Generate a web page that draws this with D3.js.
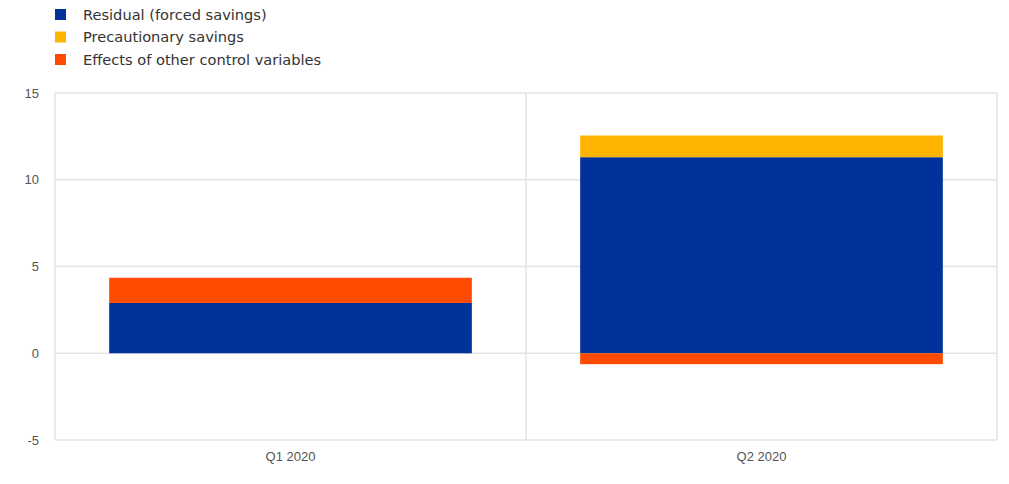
<!DOCTYPE html>
<html lang="en">
<head>
<meta charset="utf-8">
<title>Savings decomposition</title>
<script src="https://d3js.org/d3.v7.min.js"></script>
<style>
  body { margin: 0; background: #fff; }
  text { font-family: "Liberation Sans", Arial, sans-serif; }
</style>
</head>
<body>
<script>
const categories = ["Q1 2020", "Q2 2020"];
const residual = [2.9, 11.3];
const precautionary = [0, 1.25];
const otherEffects = [1.45, -0.63];
const yTicks = [-5, 0, 5, 10, 15];

const seriesNames = ["Residual (forced savings)", "Precautionary savings", "Effects of other control variables"];
const seriesColors = ["#003299", "#ffb400", "#ff4b00"];

const w = 1009, h = 484;
const plotLeft = 55, plotRight = 997, plotTop = 93, plotBottom = 440;

const svg = d3.select("body").append("svg")
  .attr("width", w).attr("height", h);

const x = d3.scaleBand().domain(categories).range([plotLeft, plotRight]).paddingInner(0).paddingOuter(0);
const y = d3.scaleLinear().domain([-5, 15]).range([plotBottom, plotTop]);

// gridlines
svg.append("g").selectAll("line").data(yTicks).join("line")
  .attr("x1", plotLeft).attr("x2", plotRight)
  .attr("y1", d => y(d)).attr("y2", d => y(d))
  .attr("stroke", "#e3e3e3").attr("stroke-width", 1.5);

// vertical borders between categories
const vlines = [plotLeft, plotRight].concat(categories.slice(1).map(c => x(c)));
svg.append("g").selectAll("line").data(vlines).join("line")
  .attr("x1", d => d).attr("x2", d => d)
  .attr("y1", plotTop).attr("y2", plotBottom)
  .attr("stroke", "#e3e3e3").attr("stroke-width", 1.5);

// y axis labels
const yAxis = d3.axisLeft(y).tickValues(yTicks).tickFormat(d => String(d)).tickSize(0).tickPadding(16);
const ya = svg.append("g").attr("transform", `translate(${plotLeft},0)`).call(yAxis);
ya.select(".domain").remove();
ya.selectAll("text").attr("fill", "#555").style("font-size", "13px");

// x axis labels
const xAxis = d3.axisBottom(x).tickSize(0).tickPadding(12);
const xa = svg.append("g").attr("transform", `translate(0,${plotBottom})`).call(xAxis);
xa.select(".domain").remove();
xa.selectAll("text").attr("fill", "#555").style("font-size", "13px");

// stacked bars
const barPad = 0.23;
const bw = x.bandwidth() * (1 - barPad);
const series = [residual, precautionary, otherEffects];
categories.forEach((c, i) => {
  let pos = 0, neg = 0;
  series.forEach((s, k) => {
    const v = s[i];
    if (!v) return;
    let y0, y1;
    if (v >= 0) { y0 = pos; y1 = pos + v; pos = y1; }
    else { y0 = neg; y1 = neg + v; neg = y1; }
    svg.append("rect")
      .attr("x", x(c) + (x.bandwidth() - bw) / 2)
      .attr("width", bw)
      .attr("y", y(Math.max(y0, y1)))
      .attr("height", Math.abs(y(y0) - y(y1)))
      .attr("fill", seriesColors[k]);
  });
});

// legend
const legend = svg.append("g").attr("transform", "translate(55,9)");
seriesNames.forEach((n, i) => {
  const g = legend.append("g").attr("transform", `translate(0,${i * 22.5})`);
  g.append("rect").attr("width", 11).attr("height", 11).attr("fill", seriesColors[i]);
  g.append("text").attr("x", 28).attr("y", 10.5).attr("fill", "#333")
    .style("font-family", "'DejaVu Sans', Verdana, sans-serif")
    .style("font-size", "14.6px").text(n);
});
</script>
</body>
</html>
